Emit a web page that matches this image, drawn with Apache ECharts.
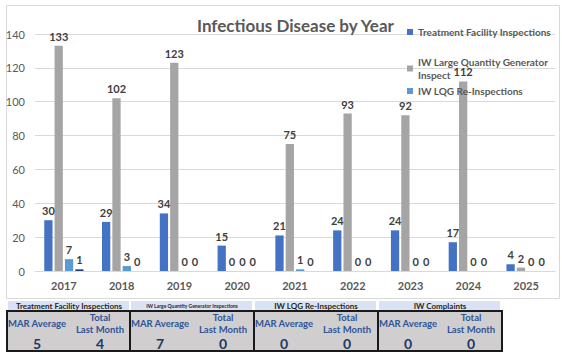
<!DOCTYPE html>
<html>
<head>
<meta charset="utf-8">
<script src="https://cdn.jsdelivr.net/npm/echarts@6/dist/echarts.min.js"></script>
<style>
html,body{margin:0;padding:0;background:#fff;}
#chart{width:562px;height:353px;}
</style>
</head>
<body>
<div id="chart"></div>
<script>
const years = ['2017','2018','2019','2020','2021','2022','2023','2024','2025'];
const seriesNames = ['Treatment Facility Inspections','IW Large Quantity Generator Inspect','IW LQG Re-Inspections','IW Complaints'];
const treatmentFacility = [30,29,34,15,21,24,24,17,4];
const iwLargeQuantity = [133,102,123,0,75,93,92,112,2];
const iwLqgReinspections = [7,3,0,0,1,0,0,0,0];
const iwComplaints = [1,0,0,0,0,0,0,0,0];
const yTicks = [0,20,40,60,80,100,120,140];

const tableHeaders = ['Treatment Facility Inspections','IW Large Quantity Generator Inspections','IW LQG Re-Inspections','IW Complaints'];
const marAverage = [5,7,0,0];
const totalLastMonth = [4,0,0,0];

const FONT = 'Lato, "Open Sans", sans-serif';
const colors = ['#4472C4','#A5A5A5','#5B9BD5','#264478'];
const values = [treatmentFacility, iwLargeQuantity, iwLqgReinspections, iwComplaints];

const chart = echarts.init(document.getElementById('chart'), null, {renderer:'svg'});

const series = values.map((v,i)=>({
  name: seriesNames[i],
  type: 'bar',
  data: v,
  itemStyle: {color: colors[i]},
  barGap: '25%',
  barCategoryGap: '32%',
  label: {show:true, position:'top', distance:4, color:'#404040', fontWeight:'bold', fontSize:11, fontFamily:FONT},
  animation:false
}));

const graphics = [];
graphics.push({type:'rect', shape:{x:6.5,y:5.5,width:553,height:293}, style:{fill:'none', stroke:'#D9D9D9', lineWidth:1}, silent:true, z:0});
const boxL = [7,130,254,378];
const boxW = 124;
tableHeaders.forEach((h,i)=>{
  const x = boxL[i];
  graphics.push({type:'rect', shape:{x:x+1, y:301, width:boxW-3, height:9}, style:{fill:'#DAE3F3'}, silent:true});
  graphics.push({type:'text', x:x+boxW/2, y:305.5, style:{text:h, fill:'#262626', font:'bold '+(i===1?'5px ':'8px ')+FONT, textAlign:'center', textVerticalAlign:'middle'}, silent:true});
  graphics.push({type:'rect', shape:{x:x, y:311, width:boxW, height:40}, style:{fill:'#D0CECE', stroke:'#1a1a1a', lineWidth:2}, silent:true});
  graphics.push({type:'text', x:x+30, y:323, style:{text:'MAR Average', fill:'#2F5597', font:'bold 9.5px '+FONT, textAlign:'center', textVerticalAlign:'middle'}, silent:true});
  graphics.push({type:'text', x:x+93, y:317, style:{text:'Total', fill:'#2F5597', font:'bold 9.5px '+FONT, textAlign:'center', textVerticalAlign:'middle'}, silent:true});
  graphics.push({type:'text', x:x+93, y:329, style:{text:'Last Month', fill:'#2F5597', font:'bold 9.5px '+FONT, textAlign:'center', textVerticalAlign:'middle'}, silent:true});
  graphics.push({type:'text', x:x+30, y:343, style:{text:String(marAverage[i]), fill:'#1F3864', font:'bold 14px '+FONT, textAlign:'center', textVerticalAlign:'middle'}, silent:true});
  graphics.push({type:'text', x:x+93, y:343, style:{text:String(totalLastMonth[i]), fill:'#1F3864', font:'bold 14px '+FONT, textAlign:'center', textVerticalAlign:'middle'}, silent:true});
});

const legendBase = {orient:'vertical', left:407, padding:0, itemWidth:6, itemHeight:6, icon:'rect',
  textStyle:{color:'#595959', fontSize:10, fontWeight:'bold', fontFamily:FONT, lineHeight:13}};

chart.setOption({
  animation:false,
  title:{text:'Infectious Disease by Year', left:197, top:17, padding:0,
    textStyle:{color:'#595959', fontSize:17, fontWeight:'bold', fontFamily:FONT}},
  legend:[
    Object.assign({}, legendBase, {top:25.5, data:[seriesNames[0]]}),
    Object.assign({}, legendBase, {top:55.5, data:[seriesNames[1]], formatter:()=> 'IW Large Quantity Generator\nInspect'}),
    Object.assign({}, legendBase, {top:84.5, data:[seriesNames[2]]})
  ],
  grid:{left:35, right:7, top:34, bottom:82, containLabel:false},
  xAxis:{type:'category', data:years,
    axisLine:{lineStyle:{color:'#D9D9D9'}}, axisTick:{show:false},
    axisLabel:{color:'#595959', fontSize:11, fontWeight:'bold', fontFamily:FONT, margin:9}},
  yAxis:{type:'value', min:0, max:140, interval:20,
    axisLine:{show:false}, axisTick:{show:false},
    splitLine:{lineStyle:{color:'#D9D9D9'}},
    axisLabel:{color:'#595959', fontSize:11, fontFamily:FONT, margin:10,
      formatter:(v)=> yTicks.includes(v) ? String(v) : ''}},
  series: series,
  graphic: graphics
});
</script>
</body>
</html>
